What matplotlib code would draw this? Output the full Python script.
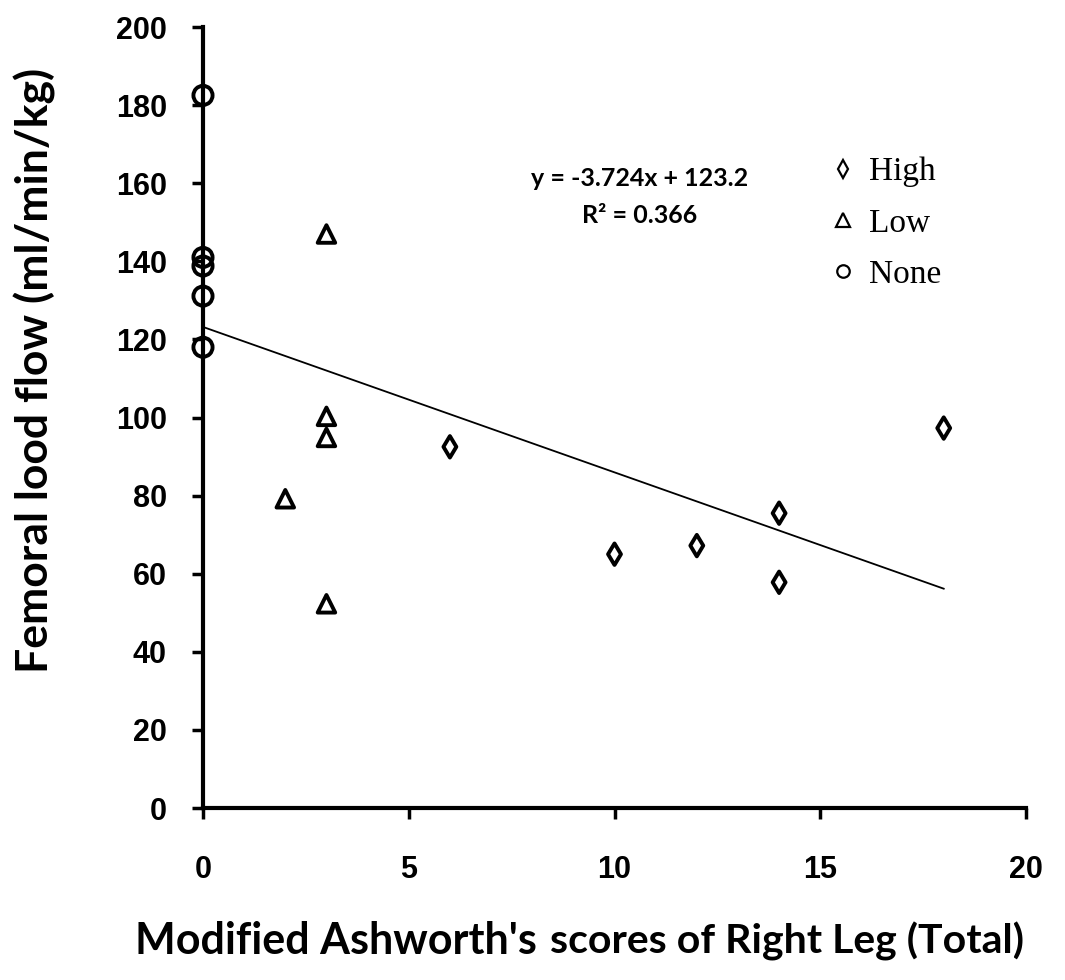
import numpy as np
import matplotlib.pyplot as plt
from matplotlib.lines import Line2D

# data
high_x = [6, 10, 12, 14, 14, 18]
high_y = [92.5, 65.0, 67.2, 75.5, 57.8, 97.3]
low_x = [3, 3, 3, 3, 2]
low_y = [147.0, 100.3, 94.9, 52.3, 79.2]
none_x = [0, 0, 0, 0, 0]
none_y = [182.5, 141.0, 138.8, 131.1, 118.0]
slope = -3.724
intercept = 123.2
fit_x = [0, 18]

tick_font = ['Liberation Sans Narrow', 'Liberation Sans', 'DejaVu Sans']
label_font = ['Lato', 'DejaVu Sans']

fig = plt.figure(figsize=(10.65, 9.8), dpi=100)
ax = fig.add_axes([0.1906, 0.1755, 0.7728, 0.7969])

mk = dict(facecolor='none', edgecolor='black', linewidths=2.8, clip_on=False, zorder=3)
ax.scatter(high_x, high_y, marker='d', s=120, **mk)
ax.scatter(low_x, low_y, marker='^', s=160, **mk)
ax.scatter(none_x, none_y, marker='o', s=190, **mk)

fx = np.array(fit_x)
ax.plot(fx, slope * fx + intercept, color='black', lw=1.3)

ax.set_xlim(0, 20)
ax.set_ylim(0, 200)
ax.set_xticks([0, 5, 10, 15, 20])
ax.set_yticks(range(0, 201, 20))
for s in ['top', 'right']:
    ax.spines[s].set_visible(False)
for s in ['left', 'bottom']:
    ax.spines[s].set_linewidth(3)
ax.tick_params(direction='out', length=8, width=2.5)
ax.tick_params(axis='y', pad=18)
ax.tick_params(axis='x', pad=26)
for lab in ax.get_xticklabels() + ax.get_yticklabels():
    lab.set_family(tick_font)
    lab.set_fontweight('bold')
    lab.set_fontsize(22)

ax.text(0.53, 0.797, 'y = -3.724x + 123.2', transform=ax.transAxes, ha='center',
        fontsize=18, fontweight='bold', family=label_font)
ax.text(0.53, 0.749, 'R² = 0.366', transform=ax.transAxes, ha='center',
        fontsize=18, fontweight='bold', family=label_font)

handles = [
    Line2D([], [], ls='none', marker='d', mfc='none', mec='black', ms=9, mew=1.6),
    Line2D([], [], ls='none', marker='^', mfc='none', mec='black', ms=10, mew=1.6),
    Line2D([], [], ls='none', marker='o', mfc='none', mec='black', ms=9, mew=1.6),
]
ax.legend(handles, ['High', 'Low', 'None'], loc='upper left', bbox_to_anchor=(0.745, 0.855),
          frameon=False, handlelength=0.6, handletextpad=0.5, labelspacing=0.62,
          borderpad=0, prop={'family': 'Liberation Serif', 'size': 24})

fig.text(0.033, 0.622, 'Femoral lood flow (ml/min/kg)', rotation=90, ha='center', va='center',
         fontsize=32, fontweight='bold', family=label_font)

t1 = fig.text(0.127, 0.027, "Modified Ashworth's", ha='left', va='baseline',
              fontsize=31, fontweight='bold', family=label_font)
r = fig.canvas.get_renderer()
bb = t1.get_window_extent(renderer=r)
fig.text(bb.x1 / fig.bbox.width + 0.012, 0.027, "scores of Right Leg (Total)", ha='left',
         va='baseline', fontsize=29.5, fontweight='bold', family=label_font)

fig.savefig('out.png', dpi=100)
